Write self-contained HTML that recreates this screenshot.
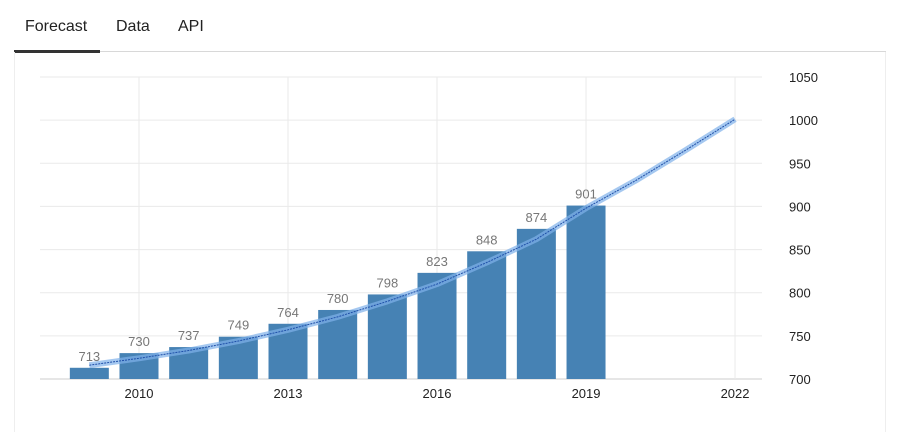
<!DOCTYPE html>
<html><head><meta charset="utf-8"><style>
body{margin:0;width:900px;height:418px;background:#fff;font-family:"Liberation Sans",sans-serif;overflow:hidden;position:relative}
.tab{position:absolute;top:18px;font-size:16px;color:#222}
</style></head><body>
<div class="tab" style="left:25px">Forecast</div>
<div class="tab" style="left:116px">Data</div>
<div class="tab" style="left:178px">API</div>
<div style="position:absolute;left:14px;top:51px;width:872px;height:1px;background:#d8d8d8"></div>
<div style="position:absolute;left:14px;top:50px;width:86px;height:3px;background:#333"></div>
<div style="position:absolute;left:14px;top:52px;width:870px;height:380px;border-left:1px solid #eee;border-right:1px solid #eee"></div>
<svg id="chart" width="900" height="418" style="position:absolute;left:0;top:0"></svg>
<script>
const years=[2009,2010,2011,2012,2013,2014,2015,2016,2017,2018,2019];
const values=[713,730,737,749,764,780,798,823,848,874,901];
const trendYears=[2009,2010,2011,2012,2013,2014,2015,2016,2017,2018,2019,2020,2021,2022];
const trendValues=[716,724,733,744,757,772,790,810,835,862,898,930,965,1001];
const yTicks=[700,750,800,850,900,950,1000,1050];
const xTicks=[2010,2013,2016,2019,2022];
const NS="http://www.w3.org/2000/svg";
const svg=document.getElementById('chart');
const x=yr=>139+(yr-2010)*49.67;
const y=v=>379-(v-700)*0.8629;
function mk(t,a){const e=document.createElementNS(NS,t);for(const k in a)e.setAttribute(k,a[k]);svg.appendChild(e);return e;}
yTicks.forEach(v=>{
 const l=mk('line',{x1:40,x2:762,y1:y(v),y2:y(v),stroke:v===700?'#ccc':'#eaeaea','stroke-width':1});
 
 
 const t=mk('text',{x:789,y:y(v)+5,'font-size':13,fill:'#222'});t.textContent=v;
 
 
});
xTicks.forEach(yr=>{
 const l=mk('line',{x1:x(yr),x2:x(yr),y1:y(1050),y2:y(700),stroke:'#eaeaea','stroke-width':1});
 
 
 const t=mk('text',{x:x(yr),y:398,'font-size':13,fill:'#222','text-anchor':'middle'});t.textContent=yr;
 
 
});
years.forEach((yr,i)=>{
 const b=mk('rect',{x:x(yr)-19.5,y:y(values[i]),width:39,height:y(700)-y(values[i]),fill:'#4682b4'});
 
 
 const t=mk('text',{x:x(yr),y:y(values[i])-7,'font-size':13,fill:'#777','text-anchor':'middle'});t.textContent=values[i];
 
 
});
let d='';trendYears.forEach((yr,i)=>{d+=(i?'L':'M')+x(yr)+','+y(trendValues[i]);});
const band=mk('path',{d:d,fill:'none',stroke:'#7fb0ea','stroke-opacity':0.7,'stroke-width':6,'stroke-linejoin':'round'});


const line=mk('path',{d:d,fill:'none',stroke:'#1f4fa8','stroke-width':1,'stroke-dasharray':'2,1'});


</script>
</body></html>
